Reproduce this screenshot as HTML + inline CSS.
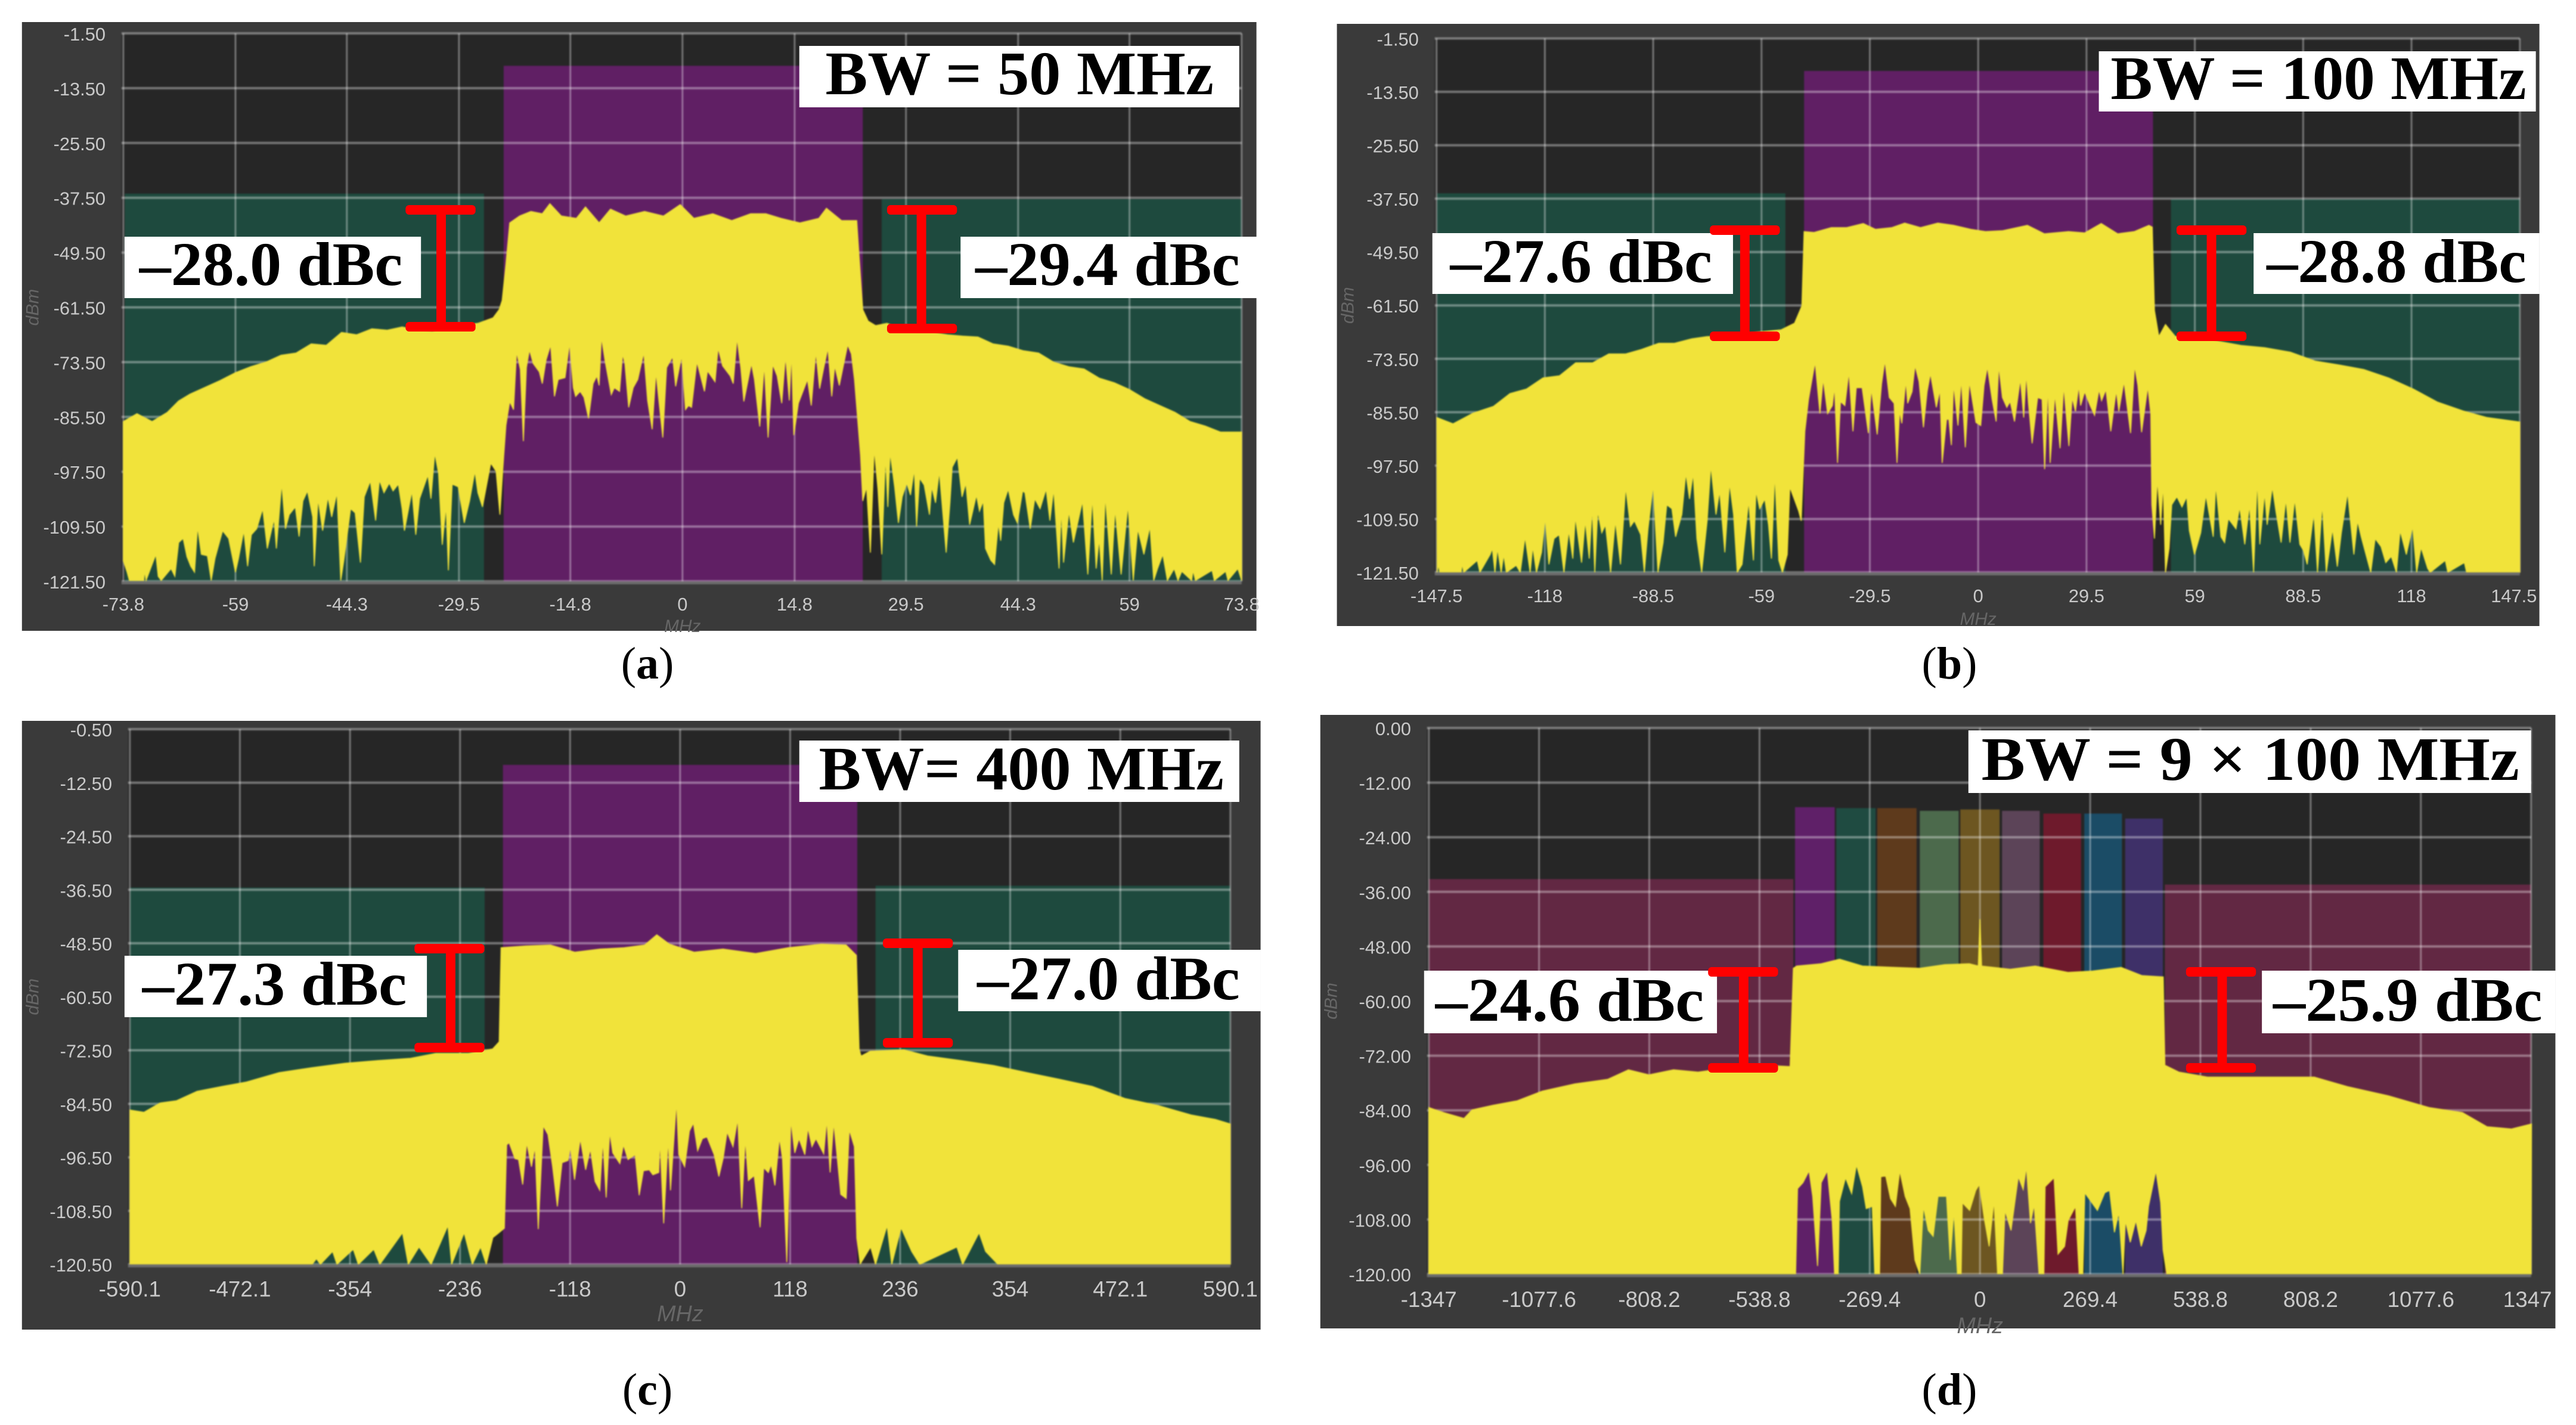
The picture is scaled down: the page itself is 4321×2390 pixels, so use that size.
<!DOCTYPE html>
<html lang="en">
<head>
<meta charset="utf-8">
<title>Spectrum measurements for four bandwidths</title>
<style>
html,body{margin:0;padding:0;background:#fff;width:4321px;height:2390px;overflow:hidden}
svg{display:block}
.tick{font-family:"Liberation Sans",sans-serif;fill:#c9c9c9}
.axis-title{font-family:"Liberation Sans",sans-serif;fill:#666;font-style:italic}
.note{font-family:"Liberation Serif",serif;font-weight:bold;fill:#000;font-size:104px}
.cap{font-family:"Liberation Serif",serif;fill:#000;font-size:76px;text-anchor:middle}
.bar{fill:#f00}
.soft{filter:blur(1.1px)}
</style>
</head>
<body>
<svg id="figure" xmlns="http://www.w3.org/2000/svg" width="4321" height="2390" viewBox="0 0 4321 2390">
<rect width="4321" height="2390" fill="#fff"/>

<g transform="scale(0.9946 1)">
<g id="panel-a"></g>
<g id="panel-c"></g>

<g>
<rect x="1348" y="77" width="742" height="103" fill="#fff"/>
<text class="note" x="1392" y="158" textLength="655" lengthAdjust="spacingAndGlyphs">BW = 50 MHz</text>
<rect x="210" y="397" width="500" height="103" fill="#fff"/>
<text class="note" x="235" y="478" textLength="444" lengthAdjust="spacingAndGlyphs">–28.0 dBc</text>
<rect x="1620" y="397" width="500" height="103" fill="#fff"/>
<text class="note" x="1645" y="478" textLength="446" lengthAdjust="spacingAndGlyphs">–29.4 dBc</text>
<g><rect class="bar" x="736" y="352" width="16" height="196"/><rect class="bar" x="684" y="344" width="118" height="16" rx="6"/><rect class="bar" x="684" y="540" width="118" height="16" rx="6"/></g>
<g><rect class="bar" x="1546" y="352" width="16" height="199"/><rect class="bar" x="1496" y="344" width="118" height="16" rx="6"/><rect class="bar" x="1496" y="543" width="118" height="16" rx="6"/></g>
</g>

<g>
<rect x="1348" y="1242" width="742" height="103" fill="#fff"/>
<text class="note" x="1381" y="1324" textLength="683" lengthAdjust="spacingAndGlyphs">BW= 400 MHz</text>
<rect x="210" y="1603" width="510" height="103" fill="#fff"/>
<text class="note" x="240" y="1685" textLength="446" lengthAdjust="spacingAndGlyphs">–27.3 dBc</text>
<rect x="1616" y="1593" width="510" height="103" fill="#fff"/>
<text class="note" x="1648" y="1676" textLength="443" lengthAdjust="spacingAndGlyphs">–27.0 dBc</text>
<g><rect class="bar" x="752" y="1591" width="16" height="166"/><rect class="bar" x="699" y="1583" width="118" height="16" rx="6"/><rect class="bar" x="699" y="1749" width="118" height="16" rx="6"/></g>
<g><rect class="bar" x="1540" y="1582" width="16" height="167"/><rect class="bar" x="1489" y="1574" width="118" height="16" rx="6"/><rect class="bar" x="1489" y="1741" width="118" height="16" rx="6"/></g>
</g>
</g>

<g transform="matrix(0.9946 0 0 1 11.66 0)">
<g id="panel-b"></g>
<g id="panel-d"></g>

<g>
<rect x="3528" y="86" width="737" height="101" fill="#fff"/>
<text class="note" x="3548" y="166" textLength="701" lengthAdjust="spacingAndGlyphs">BW = 100 MHz</text>
<rect x="2404" y="391" width="507" height="102" fill="#fff"/>
<text class="note" x="2434" y="473" textLength="442" lengthAdjust="spacingAndGlyphs">–27.6 dBc</text>
<rect x="3789" y="391" width="482" height="102" fill="#fff"/>
<text class="note" x="3811" y="473" textLength="438" lengthAdjust="spacingAndGlyphs">–28.8 dBc</text>
<g><rect class="bar" x="2923" y="386" width="16" height="178"/><rect class="bar" x="2872" y="378" width="118" height="16" rx="6"/><rect class="bar" x="2872" y="556" width="118" height="16" rx="6"/></g>
<g><rect class="bar" x="3710" y="386" width="16" height="178"/><rect class="bar" x="3659" y="378" width="118" height="16" rx="6"/><rect class="bar" x="3659" y="556" width="118" height="16" rx="6"/></g>
</g>

<g>
<rect x="3308" y="1225" width="949" height="105" fill="#fff"/>
<text class="note" x="3330" y="1308" textLength="907" lengthAdjust="spacingAndGlyphs">BW = 9 × 100 MHz</text>
<rect x="2390" y="1628" width="494" height="105" fill="#fff"/>
<text class="note" x="2409" y="1712" textLength="453" lengthAdjust="spacingAndGlyphs">–24.6 dBc</text>
<rect x="3803" y="1628" width="495" height="105" fill="#fff"/>
<text class="note" x="3822" y="1712" textLength="454" lengthAdjust="spacingAndGlyphs">–25.9 dBc</text>
<g><rect class="bar" x="2921" y="1630" width="16" height="161"/><rect class="bar" x="2869" y="1622" width="118" height="16" rx="6"/><rect class="bar" x="2869" y="1783" width="118" height="16" rx="6"/></g>
<g><rect class="bar" x="3728" y="1630" width="16" height="161"/><rect class="bar" x="3675" y="1622" width="118" height="16" rx="6"/><rect class="bar" x="3675" y="1783" width="118" height="16" rx="6"/></g>
</g>
</g>

<text class="cap" x="1086" y="1138">(<tspan font-weight="bold">a</tspan>)</text>
<text class="cap" x="3270" y="1138">(<tspan font-weight="bold">b</tspan>)</text>
<text class="cap" x="1086" y="2356">(<tspan font-weight="bold">c</tspan>)</text>
<text class="cap" x="3270" y="2356">(<tspan font-weight="bold">d</tspan>)</text>
</svg>

<script>
/* ---------- Panel (a) data: frequency in MHz, level in dBm ---------- */
const aXTicks = ['-73.8','-59','-44.3','-29.5','-14.8','0','14.8','29.5','44.3','59','73.8'];
const aYTicks = ['-1.50','-13.50','-25.50','-37.50','-49.50','-61.50','-73.50','-85.50','-97.50','-109.50','-121.50'];
const aTopFreq = [-73.8,-72,-70,-68,-66.5,-65,-63,-61,-59,-57,-55,-53,-51,-49,-47,-45,-43,-41,-39,-37,-35,-33,-31,-29,-27,-25,-24.2,-23.8,-23.3,-22.8,-21.5,-20,-18.5,-17.5,-16,-14,-12.8,-11,-9.5,-7.5,-5,-2.5,-0.3,1.5,4,6.5,9,11,13,15.5,18,19,21,23,23.3,23.8,24.5,25.5,27,29,31,33,35,37,39,41,43,45,47,49,51,53,55,57,59,61,63,65,67,69,71,73.8];
const aTop = [-86.5,-84.8,-86.5,-84.5,-82,-80.5,-79,-77.5,-75.8,-74.5,-73.5,-72,-71.5,-69.5,-69.8,-67,-67.5,-66.2,-66.5,-65.8,-66.5,-66.8,-66,-65.5,-65,-63.8,-62,-60,-52,-43,-41.5,-40.5,-41,-38.8,-41.5,-42,-39.5,-43,-40,-41.5,-40.5,-41.5,-39,-42,-41,-42.5,-41,-41,-42,-43,-42,-39.8,-42.5,-42.5,-50,-62,-64.5,-65.5,-65,-66.5,-67,-67,-67.5,-67.8,-68,-69.5,-70,-71,-71.5,-73.5,-74.5,-75,-77,-78,-79.5,-81.5,-83,-84.5,-86.5,-87.5,-88.8,-88.8];
const aLowFreq = [
-73.8,-73.3,-73,-71.1,-71,-70.8,-69.5,-69.2,-68.8,-67.5,
-67,-66.5,-65.9,-65.4,-64.9,-64.4,-64,-63.5,-62.7,-62.2,
-61.7,-60.7,-59.9,-59,-58.6,-57.9,-57.4,-56.9,-56.2,-55.4,
-54.8,-53.9,-53.6,-52.9,-52.4,-51.9,-51.1,-50.6,-50.1,-49.5,
-48.8,-48.6,-48.1,-47.5,-46.8,-46.3,-45.6,-45.1,-44.7,-43.8,
-43.2,-42.5,-42,-41.2,-40.5,-40,-39.4,-38.7,-38.2,-37.5,
-37,-36.7,-35.7,-35.2,-34.7,-33.6,-33.2,-32.7,-32.2,-31.7,
-31.2,-30.9,-30.4,-29.6,-28.8,-28.1,-27.4,-27,-26.4,-25.3,
-24.6,-24.1,-23.6,
-23.3,-22.8,-22.3,-21.9,-21.4,-21,-20.6,-20.2,-19.7,-18.9,
-18.5,-18,-17.4,-16.9,-16.4,-15.5,-14.9,-14.4,-14.1,-13.5,
-13,-12.4,-11.8,-11.3,-11,-10.7,-10.2,-9.4,-9,-8.3,
-7.9,-7.6,-7.1,-6.5,-5.9,-5.1,-4.6,-4,-3.5,-3.1,
-2.6,-2.1,-1.3,-0.9,-0.1,0.4,0.8,1.2,1.9,2.9,
3.3,4.3,4.7,5.3,6.3,6.7,7.2,7.7,8.1,9.1,
9.5,10.2,10.8,11.3,11.9,12.5,13.1,13.6,14.1,14.4,
14.7,15.3,15.9,16.5,17,17.6,18.1,18.6,19.2,19.7,
20.1,20.7,21.8,22.3,22.7,23.1,23.5,
23.8,24.3,24.8,25.3,25.8,26.3,26.8,27.1,27.4,28,
28.5,29,29.6,30.1,30.6,30.9,31.3,31.9,32.6,32.9,
33.4,33.9,34.8,35.3,35.6,36.3,36.9,37.4,37.9,38.8,
39.2,39.7,40,40.7,41.2,41.7,42,42.4,43,43.7,
44.2,44.9,45.2,45.9,46.5,47.2,48,48.5,49,49.7,
50,50.3,51,51.6,52.8,53.5,54.1,54.6,55,55.4,
55.8,56.6,57.1,57.9,58.8,59.5,60.1,60.9,61.7,62.2,
62.7,63.4,64,64.9,65.4,65.9,67.2,67.4,67.7,69.9,
70.2,71.7,72,73.3,73.8];
const aLow = [
-117,-119.5,-121.3,-121.3,-119.1,-121.3,-115.6,-120.4,-121.3,-118.7,
-120.4,-113,-112.1,-116.1,-118.2,-119.5,-109.5,-115.6,-115.9,-121.3,
-116.5,-110.4,-112.1,-119.5,-116.5,-110.4,-118.2,-111.3,-110,-105.6,
-114.3,-107.8,-114.3,-100,-110,-106.9,-105.2,-111.7,-103.9,-101.7,
-107.4,-118.2,-103.4,-110.4,-103,-107.4,-102.1,-121.3,-117,-105.6,
-106.5,-117.4,-103,-99.5,-108.2,-99.3,-102.1,-100,-101.7,-100.2,
-105.6,-110.4,-101.7,-111.3,-103.4,-98.2,-103.4,-93.4,-97.8,-113.5,
-104.8,-119.1,-100.2,-100.8,-108.7,-103.9,-97.4,-102.1,-105.2,-95.6,
-97.4,-106.9,-94.3,
-87.3,-82.1,-83.9,-71.2,-75.1,-90.8,-74.7,-70.8,-73.8,-75.6,
-78.2,-73,-69.7,-81,-77.3,-76.9,-69.3,-79.1,-81,-79.9,
-81.2,-85.8,-78.2,-76.5,-78.6,-68,-73.4,-80.6,-79.1,-79.9,
-71.7,-73.8,-83.4,-79.1,-77.3,-71.4,-81.9,-88.2,-75.6,-82.1,
-90,-74.7,-72.3,-78.8,-72.1,-83.9,-83,-83.4,-73.4,-79.9,
-75.4,-77.8,-70.4,-74.3,-76.5,-78.2,-68.2,-74.7,-82.1,-73.8,
-77.3,-87.6,-74,-90,-74,-76.5,-82.5,-72.1,-81.9,-71.2,
-89.5,-82.5,-79.9,-77.3,-83,-71.2,-79.3,-75.1,-70.4,-81,
-74.3,-78.6,-69.7,-71.7,-77.3,-85.6,-93.9,
-103.9,-100.8,-115.2,-92.4,-101.3,-115.6,-93.9,-105.2,-93.2,-100.8,
-108.7,-103,-100,-102.6,-96.9,-109.5,-98.9,-100.4,-106.9,-100.8,
-104.3,-97.4,-115.2,-104.3,-96.5,-94.3,-103,-100,-109.1,-102.6,
-106.1,-103.9,-114.3,-116.9,-117.8,-108.7,-112.6,-104.3,-101.3,-106.9,
-108.7,-101.7,-102.1,-110,-103.4,-105.6,-101.3,-108.2,-101.3,-118.7,
-105.4,-117.4,-106.1,-113,-103.9,-120,-103,-118.7,-112.1,-121.3,
-102.6,-120,-105.6,-120,-104.8,-121.3,-110,-115.6,-109.5,-121.3,
-118.7,-115.6,-121.3,-118.7,-121.3,-119.3,-121.3,-119.1,-121.3,-119.1,
-121.3,-119.3,-121.3,-118.7,-121.3];
const aBandEdges = [-23.6,23.8];
const aBandTop = [-8.6];
const aMaskEdges = [-73.6,-26.2,26.3,73.8];
const aMaskTop = [-36.6,-37.8];

/* ---------- Panel (b) data ---------- */
const bXTicks = ['-147.5','-118','-88.5','-59','-29.5','0','29.5','59','88.5','118','147.5'];
const bYTicks = ['-1.50','-13.50','-25.50','-37.50','-49.50','-61.50','-73.50','-85.50','-97.50','-109.50','-121.50'];
const bTopFreq = [-147.4,-143,-137.5,-132,-127.5,-123,-118.5,-114,-109.6,-105,-100.6,-96,-91.7,-87,-82.7,-78,-73.8,-67,-60,-53.7,-50,-48,-47.4,-44.7,-40,-35.8,-31.3,-28,-23.5,-20,-15.7,-11,-6.7,-2,2,6.7,13.4,18,24.6,29,33.5,38,42.5,46.5,47.4,48,49.2,51,53.7,58,65,71.6,78,85,91.7,98.4,105,111.8,118.5,125,132,138.6,147.5];
const bTop = [-86.7,-88.1,-85.7,-84.2,-81.3,-80.3,-77.8,-77.3,-74.4,-74.4,-72.4,-72.4,-71.4,-70,-70,-69,-68.5,-68.5,-67.5,-67,-65.5,-61.6,-44.9,-45.1,-44,-44,-43.1,-44.4,-44,-43,-44,-43,-43.5,-44.4,-44.9,-44.7,-43.5,-45.4,-44.9,-45.2,-43.1,-45.4,-44.9,-43.5,-43.9,-62.6,-68.5,-65.8,-68.5,-68.5,-69.5,-70.5,-71,-72,-74,-74.9,-75.9,-77.8,-80.3,-83.2,-85.2,-86.7,-87.7];
const bLowFreq = [
-147.3,-147,-146.6,-140.8,-140.5,-140.1,-136.4,-135.7,-132.9,-132.3,
-131.6,-130.9,-129.9,-129.2,-128.5,-125.8,-124.7,-123.4,-122,-121.3,
-120.3,-118.9,-117.9,-116.9,-115.5,-114.1,-112.8,-111.5,-110.4,-109.7,
-108,-107,-105.9,-105.1,-104.4,-103.6,-102.5,-101.5,-100.1,-98.8,
-97.4,-96,-94.7,-93.6,-91.9,-90.9,-89.9,-88.5,-87.2,-85.8,
-84.8,-83.4,-82.4,-80.7,-79.6,-78.6,-77.6,-76.6,-75.3,-73.8,
-72.8,-71.4,-70.4,-69,-67.7,-66.6,-65.6,-64.3,-62.5,-61.2,
-60.5,-59.5,-58.1,-57.1,-56.3,-55.4,-54.3,-53.3,-52,-51.3,
-48.9,-48.2,
-47.2,-46.2,-45.3,-44.4,-43.1,-42.2,-41,-39.7,-39.1,-38.3,
-37.5,-36.3,-35.2,-34.1,-33.2,-31.6,-29.9,-29.1,-27.5,-26.3,
-25.4,-24.2,-22.9,-22.1,-21.4,-20.8,-19.7,-19.2,-18,-17.2,
-16.1,-14.9,-13.9,-13,-11.4,-10.4,-9.8,-8.6,-8,-7.3,
-6.7,-5.5,-4.6,-3.5,-2.4,-0.6,0.7,1.6,2.5,3.8,
4.9,5.6,6.6,7.8,8.7,9.9,11.5,12.4,13.1,13.7,
14.7,16.2,17.4,18.1,19,19.6,20.9,22.3,23.3,24.7,
25.6,26.5,27.4,27.9,29,30.5,31.7,32.9,33.6,34.8,
36.1,37.6,38.3,39.7,41.5,42.6,43.5,44.5,46.2,47,
47.3,48,48.8,49.7,50.4,51,52,52.7,54.1,55.5,
56.8,57.5,58.9,60.6,62,64,64.7,66.1,67.1,68.1,
70.2,71.2,72.6,73.9,75,76,76.7,78,78.7,80.1,
81.1,82.5,83.8,84.9,86.2,87.6,88.6,89.6,91.4,92.4,
93.7,94.8,96.5,97.8,98.9,100.6,102.3,103.3,104.3,106.9,
108.1,109.7,111,112.5,113.9,114.9,116.6,118.3,119.4,120.6,
122.4,123.1,127.2,127.9,132.4,133,147.5];
const bLow = [
-121.5,-119.7,-121.5,-121.5,-119.5,-121.5,-118.8,-121.5,-117.5,-116.1,
-121.5,-116.1,-121.5,-117.5,-121.5,-119.9,-121.5,-113.5,-121.5,-115.7,
-121.5,-117,-109.2,-119.7,-113.9,-113,-121.5,-112.1,-118.4,-109,
-119.3,-109.9,-118.4,-106.8,-121.5,-107.7,-112.6,-110.8,-121.5,-109.9,
-119.7,-102.3,-111.2,-109.9,-113,-121.5,-111.7,-101.8,-121.5,-114.8,
-106.3,-107.2,-113.5,-108.5,-99.2,-105,-99.2,-113.9,-121.5,-109.9,
-97.4,-108.5,-103.2,-117,-101.4,-108.5,-121.5,-119.7,-105.4,-118.8,
-103.2,-107.2,-105,-110.8,-118.4,-99.2,-118.8,-121.5,-117.5,-102.3,
-107.7,-109.9,
-89.8,-82.6,-78.4,-74.2,-85.8,-78,-85.8,-84,-79.7,-96.9,
-83.1,-84,-76.4,-89.8,-80,-80,-90.2,-80.2,-90.5,-79.1,
-73.9,-82.2,-83.5,-96.9,-85.1,-88,-78.4,-83.5,-80.9,-75,
-78.6,-88.9,-80.9,-76.8,-84.4,-80.4,-96.9,-87.1,-87.1,-92.9,
-79.1,-88.5,-78,-93.4,-78.6,-87.8,-88.5,-79.5,-75.3,-82.6,
-87.6,-75,-82.2,-84.4,-83.1,-87.6,-78,-86.7,-76.8,-83.5,
-92.5,-82.2,-82.6,-98.3,-79.3,-96.9,-81.3,-93.6,-79.5,-93.1,
-82.2,-85.3,-79.5,-84,-80.9,-84,-86.2,-80.4,-82.9,-80.4,
-89.8,-80.6,-85.3,-78.6,-90.2,-75,-79.5,-90,-79.7,-85.8,
-106.3,-113.9,-100.5,-110.8,-101.4,-121.5,-116.1,-106.3,-104.5,-106.8,
-104.5,-112.1,-117.5,-112.6,-104.1,-113.5,-101.8,-113.5,-114.8,-109.4,
-111.7,-106.8,-115.2,-106.3,-121.5,-100.5,-115.2,-103.6,-110.8,-102.3,
-107.9,-114.8,-105,-114.8,-105,-115.2,-116.6,-119.7,-108.1,-121.5,
-106.1,-121.5,-111.7,-120.2,-112.6,-103.6,-117.5,-109.9,-113.5,-121.5,
-113.9,-115.7,-119.3,-117.9,-121.5,-112.1,-117.5,-111.2,-121.5,-115.9,
-120.6,-121.5,-118.8,-121.5,-119.3,-121.5,-121.5];
const bBandEdges = [-47.4,47.6];
const bBandTop = [-8.8];
const bMaskEdges = [-147.4,-52.5,52.5,147.5];
const bMaskTop = [-36.3,-37.6];

/* ---------- Panel (c) data ---------- */
const cXTicks = ['-590.1','-472.1','-354','-236','-118','0','118','236','354','472.1','590.1'];
const cYTicks = ['-0.50','-12.50','-24.50','-36.50','-48.50','-60.50','-72.50','-84.50','-96.50','-108.50','-120.50'];
const cTopFreq = [-590,-575,-557.5,-540,-518,-491,-465,-430,-395,-359,-324,-289,-262,-227,-201,-194,-192,-165,-139,-113,-86,-60,-38,-25,-11.5,15,46,81,116,151.5,178,189,192,194,204,240,266,301,336,372,407,442,477,513,548,574,590];
const cTop = [-85.9,-86.4,-84.3,-83.8,-81.7,-80.6,-79.6,-77.5,-76.4,-75.4,-74.8,-74.3,-73.2,-73.2,-72.2,-70.6,-49.5,-49.1,-48.9,-50.5,-49.8,-49.5,-48.9,-46.6,-48.7,-50.5,-49.8,-50.8,-49.5,-48.7,-48.9,-51.2,-72.2,-73.8,-72.7,-72.4,-73.8,-74.8,-75.9,-77.5,-79,-80.6,-83.3,-84.9,-87,-88,-89];
const cLowFreq = [
-590,-394.6,-390,-385.8,-372.6,-368,-350.5,-345,-328.5,-322,
-297.7,-291.5,-280,-267,-249,-245,-231.6,-222.8,-214,-207.9,
-200.8,
-196,-188.5,-186,-183.4,-177.1,-173.3,-168.8,-164.5,-159.4,-155.6,
-152.1,-146.8,-141.7,-136.7,-131.6,-126.6,-120.2,-117.7,-113.2,-107.1,
-101.3,-96.2,-91.2,-86.1,-82.8,-79.3,-75.5,-72.2,-64.6,-60.8,
-55.8,-48.2,-43.9,-39.3,-33,-29.2,-22.9,-21.6,-17.6,-12.8,
-10.3,-3.9,-1.4,4.9,10,14.3,18.8,23.9,28.9,36.5,
41.6,46.1,50.4,56.7,61.8,66.1,69.9,73.2,79.5,85.8,
89.6,94.6,97.7,101.7,106.5,109.8,114.4,118.7,123,127.5,
133.8,137.1,141.4,145.7,154,157.3,160.9,164.7,168,172.3,
178.1,181.4,186.9,189.5,193.2,
204.3,209.6,222,227,237,248.4,257,296.8,303,320.6,
327.6,340.9,590];
const cLow = [
-120.5,-120.5,-119.2,-120.5,-117.6,-120.5,-117.1,-120.5,-117.1,-120.5,
-113.4,-120.5,-116.6,-120.5,-111.8,-120.5,-113.4,-120.5,-116.6,-120.5,
-114.5,
-113.7,-112.4,-93.7,-93.2,-96.8,-97,-102.6,-93.2,-98.6,-94.1,
-112.6,-89.4,-91.4,-98.6,-107.5,-97.7,-97.2,-94.1,-101.5,-92.3,
-99.3,-94.6,-101.9,-103.9,-92.6,-105.5,-90.8,-95.5,-97.9,-93.7,
-97,-95.9,-105,-99.5,-99.3,-100.4,-99.9,-92.3,-111.3,-92.3,
-103.9,-83.9,-95.9,-98.6,-90.6,-88.8,-95,-92.3,-91.9,-95.9,
-100.8,-96.8,-90.8,-94.1,-87.9,-107.9,-92.3,-101.7,-100.6,-112.2,
-98.8,-99.9,-98.1,-102.8,-92.1,-96.8,-120,-88.1,-95.5,-92.3,
-95.9,-89.9,-94.1,-92.3,-95.7,-88.1,-99.9,-88.6,-95.5,-104.8,
-105.7,-90.3,-94.1,-114.6,-120.4,
-116.6,-120.5,-111.8,-120.5,-112.3,-117.6,-120.5,-116.6,-120.5,-113.4,
-117.6,-120.5,-120.5];
const cBandEdges = [-190,190];
const cBandTop = [-8.5];
const cMaskEdges = [-590,-209.6,209.6,590];
const cMaskTop = [-36,-35.6];

/* ---------- Panel (d) data ---------- */
const dXTicks = ['-1347','-1077.6','-808.2','-538.8','-269.4','0','269.4','538.8','808.2','1077.6','1347'];
const dYTicks = ['0.00','-12.00','-24.00','-36.00','-48.00','-60.00','-72.00','-84.00','-96.00','-108.00','-120.00'];
const dTopFreq = [-1347,-1311,-1261,-1241,-1191,-1131,-1070,-990,-910,-859,-809,-749,-689,-608,-528,-464,-456,-448,-388,-343,-287,-207,-147,-86,-26,-4,0,4,74,135,215,275,345,396,448,452,486,556,677,817,898,998,1098,1179,1239,1299,1348];
const dTop = [-83.4,-84.5,-85.8,-83.9,-82.9,-81.9,-79.8,-78.2,-77.2,-75.1,-76.2,-75.1,-75.6,-74.6,-74.1,-74.4,-52.8,-52.3,-51.8,-50.8,-52.3,-52.6,-52.8,-52,-51.8,-52.3,-42,-52.3,-53,-52.3,-53.7,-53.4,-52.6,-54.4,-54.7,-74.1,-75.6,-76.7,-76.7,-76.7,-78.8,-80.8,-83.4,-84.5,-87.6,-88.1,-87];
const dLowFreq = [
-1347,-750,-749,-748,-696,-695,-694,-656,-655,-654,
-450.5,-445.7,-432.6,-417.7,-408.8,-396.9,-388,-373.1,-361.2,-355.3,
-346.4,-343.4,-328.5,-313.6,-301.8,-286.9,-278,-263.1,-257.1,-245.3,
-242.3,-230.4,-218.5,-206.6,-195.9,-182.8,-170.9,-159,-147.1,-138.2,
-126.3,-114.4,-102.5,-81.7,-72.8,-63.8,-54.9,-46,-43,-25.2,
-10.3,-1.4,10.5,22.4,34.3,43.2,55.1,61.1,75.9,93.8,
105.7,113.4,123.5,132.5,144.4,156.2,159.2,181.2,190.7,206.8,
215.7,233.6,242.5,251.4,256.2,287.1,305,316.8,328.7,339.4,
349.6,355.5,367.4,381.1,394.2,406.1,412,429.9,441.7,447.7,456.6,
568,569,570,1347];
const dLow = [
-120,-120,-116.6,-120,-120,-116.6,-120,-120,-117,-120,
-120,-101.2,-99.9,-97.3,-102.9,-118.2,-99.9,-97.3,-108.2,-120,
-120,-104,-98.8,-102.3,-96,-100.8,-105.6,-105.1,-120,-120,
-98.6,-98.4,-103.4,-105.1,-97.3,-102.9,-105.6,-116.9,-120,-105.1,
-110.4,-111.7,-102.9,-102.9,-116.9,-106,-120,-120,-104.3,-106,
-101.6,-100.3,-107.7,-113.9,-103.8,-120,-120,-106,-110.4,-98.6,
-101.4,-96.4,-108.8,-104.7,-120,-120,-100.8,-98.8,-115.6,-113.9,
-108.2,-105.1,-120,-120,-102.1,-106,-102.1,-101.6,-110.8,-106.4,
-120,-108.2,-113,-108.2,-113.9,-110.4,-105.1,-97.3,-104.3,-114.7,-120,
-120,-118,-120,-120];
const dCarrierLeft = [-452,-351,-251,-147,-48,54,155,255,355];
const dCarrierRight = [-355,-255,-155,-52,48,146,247,347,447];
const dCarrierTop = [-17.4,-17.6,-17.6,-18.2,-17.9,-18.2,-18.8,-18.8,-19.9];
const dMaskEdges = [-1347,-456,452,1347];
const dMaskTop = [-33.2,-34.4];

const NS = 'http://www.w3.org/2000/svg';
const GRID = 'rgba(255,255,255,0.36)';
const YELLOW = '#f1e33a';
const CARRIER_COLORS = ['#5f2068','#1f4b41','#5e3a1c','#4c6a4c','#6d5621','#5c4458','#6e1a2c','#1b4c66','#3e3068'];

function make(tag, attrs, parent) {
  const el = document.createElementNS(NS, tag);
  for (const k in attrs) el.setAttribute(k, attrs[k]);
  parent.appendChild(el);
  return el;
}

function drawPanel(id, box, plot, fonts, data) {
  const root = document.getElementById(id);
  const xTickVals = data.xTicks.map(Number);
  const yTickVals = data.yTicks.map(Number);
  const xMin = xTickVals[0], xMax = xTickVals[xTickVals.length - 1];
  const yMax = yTickVals[0], yMin = yTickVals[yTickVals.length - 1];
  const xScale = f => plot.x0 + (f - xMin) / (xMax - xMin) * (plot.x1 - plot.x0);
  const yScale = v => plot.y0 + (yMax - v) / (yMax - yMin) * (plot.y1 - plot.y0);

  const frame = make('rect', {x: box.x, y: box.y, width: box.w, height: box.h, fill: '#3a3a3a'}, root);
  
  

  const chart = make('g', {class: 'soft'}, root);
  
  

  const bg = make('rect', {x: plot.x0 - 3, y: plot.y0, width: plot.x1 - plot.x0 + 3, height: plot.y1 - plot.y0, fill: '#262626'}, chart);
  
  

  /* adjacent-channel mask regions */
  [0, 1].forEach(i => {
    const x0 = xScale(data.maskEdges[i * 2]), x1 = xScale(data.maskEdges[i * 2 + 1]);
    const r = make('rect', {x: x0, y: yScale(data.maskTop[i]), width: x1 - x0, height: plot.y1 - yScale(data.maskTop[i]), fill: data.maskColor}, chart);
    
    
  });

  /* main channel or carriers */
  if (data.carrierLeft) {
    data.carrierLeft.forEach((f, i) => {
      const x0 = xScale(f), x1 = xScale(data.carrierRight[i]);
      const r = make('rect', {x: x0, y: yScale(data.carrierTop[i]), width: x1 - x0, height: plot.y1 - yScale(data.carrierTop[i]), fill: CARRIER_COLORS[i]}, chart);
      
      
    });
  } else {
    const x0 = xScale(data.bandEdges[0]), x1 = xScale(data.bandEdges[1]);
    const r = make('rect', {x: x0, y: yScale(data.bandTop[0]), width: x1 - x0, height: plot.y1 - yScale(data.bandTop[0]), fill: '#601f64'}, chart);
    
    
  }

  /* grid and ticks */
  xTickVals.forEach((v, i) => {
    const l = make('line', {x1: xScale(v), x2: xScale(v), y1: plot.y0, y2: plot.y1, stroke: GRID, 'stroke-width': 3}, chart);
    
    
    const t = make('text', {x: xScale(v) + (i === 10 ? fonts.lastShift : 0), y: plot.y1 + fonts.xGap, 'text-anchor': 'middle', class: 'tick', 'font-size': fonts.x}, root);
    
    
    t.textContent = data.xTicks[i];
  });
  yTickVals.forEach((v, i) => {
    const l = make('line', {x1: plot.x0 - 3, x2: plot.x1, y1: yScale(v), y2: yScale(v), stroke: GRID, 'stroke-width': 4}, chart);
    
    
    const t = make('text', {x: plot.x0 - 30, y: yScale(v) + 12, 'text-anchor': 'end', class: 'tick', 'font-size': fonts.y}, root);
    
    
    t.textContent = data.yTicks[i];
  });

  /* yellow trace: area between the max-hold and min-hold envelopes */
  let d = '';
  data.topFreq.forEach((f, i) => { d += (i ? 'L' : 'M') + xScale(f).toFixed(1) + ' ' + yScale(data.top[i]).toFixed(1); });
  for (let i = data.lowFreq.length - 1; i >= 0; i--) {
    d += 'L' + xScale(data.lowFreq[i]).toFixed(1) + ' ' + yScale(data.low[i]).toFixed(1);
  }
  const trace = make('path', {d: d + 'Z', fill: YELLOW, stroke: YELLOW, 'stroke-width': 1.5, 'stroke-linejoin': 'miter'}, chart);
  
  

  /* lighter x-axis baseline in front of the trace */
  const floor = make('rect', {x: plot.x0 - 3, y: plot.y1, width: plot.x1 - plot.x0 + 3, height: 5, fill: '#6c6c6c'}, chart);
  
  

  const xTitle = make('text', {x: xScale(0), y: fonts.mhzY, 'text-anchor': 'middle', class: 'axis-title', 'font-size': fonts.title}, root);
  
  
  xTitle.textContent = 'MHz';

  const cy = (plot.y0 + plot.y1) / 2;
  const yTitle = make('text', {x: box.x + 28, y: cy, 'text-anchor': 'middle', class: 'axis-title', 'font-size': 30, transform: 'rotate(-90 ' + (box.x + 28) + ' ' + cy + ')'}, root);
  
  
  yTitle.textContent = 'dBm';
}

drawPanel('panel-a', {x: 37, y: 37, w: 2082, h: 1021}, {x0: 208, x1: 2094, y0: 56, y1: 975},
  {x: 31, y: 31, xGap: 49, lastShift: 0, title: 30, mhzY: 1060},
  {xTicks: aXTicks, yTicks: aYTicks, topFreq: aTopFreq, top: aTop, lowFreq: aLowFreq, low: aLow, bandEdges: aBandEdges, bandTop: aBandTop, maskEdges: aMaskEdges, maskTop: aMaskTop, maskColor: '#1e4a3e'});

drawPanel('panel-b', {x: 2243, y: 40, w: 2028, h: 1010}, {x0: 2411, x1: 4238, y0: 64.5, y1: 960},
  {x: 31, y: 31, xGap: 50, lastShift: -10, title: 30, mhzY: 1048},
  {xTicks: bXTicks, yTicks: bYTicks, topFreq: bTopFreq, top: bTop, lowFreq: bLowFreq, low: bLow, bandEdges: bBandEdges, bandTop: bBandTop, maskEdges: bMaskEdges, maskTop: bMaskTop, maskColor: '#1e4a3e'});

drawPanel('panel-c', {x: 37, y: 1209, w: 2089, h: 1021}, {x0: 219, x1: 2075, y0: 1223, y1: 2120.6},
  {x: 37, y: 31, xGap: 54, lastShift: 0, title: 38, mhzY: 2216},
  {xTicks: cXTicks, yTicks: cYTicks, topFreq: cTopFreq, top: cTop, lowFreq: cLowFreq, low: cLow, bandEdges: cBandEdges, bandTop: cBandTop, maskEdges: cMaskEdges, maskTop: cMaskTop, maskColor: '#1e4a3e'});

drawPanel('panel-d', {x: 2215, y: 1199, w: 2083, h: 1029}, {x0: 2398, x1: 4257, y0: 1221, y1: 2137},
  {x: 37, y: 31, xGap: 55, lastShift: -6, title: 38, mhzY: 2236},
  {xTicks: dXTicks, yTicks: dYTicks, topFreq: dTopFreq, top: dTop, lowFreq: dLowFreq, low: dLow, carrierLeft: dCarrierLeft, carrierRight: dCarrierRight, carrierTop: dCarrierTop, maskEdges: dMaskEdges, maskTop: dMaskTop, maskColor: '#622843'});
</script>
</body>
</html>
